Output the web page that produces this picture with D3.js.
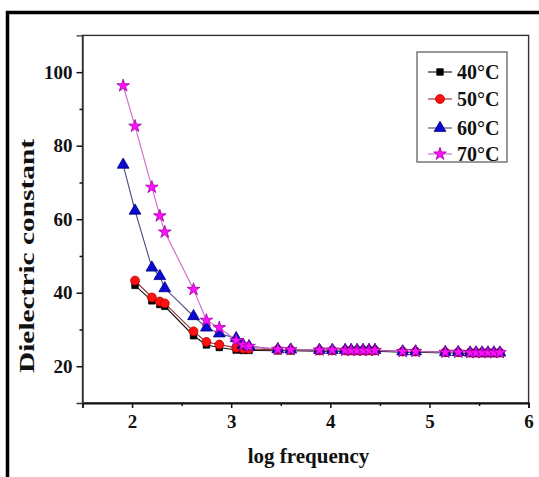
<!DOCTYPE html>
<html><head><meta charset="utf-8">
<script src="https://cdn.jsdelivr.net/npm/d3@7"></script>
<style>body{margin:0;background:#fff}svg{display:block}</style>
</head><body>
<script>
const logf = [1.91, 2.03, 2.20, 2.28, 2.33, 2.62, 2.75, 2.88, 3.05, 3.12, 3.18, 3.47, 3.60, 3.89, 4.02, 4.15, 4.21, 4.27, 4.33, 4.39, 4.45, 4.73, 4.86, 5.16, 5.29, 5.41, 5.47, 5.53, 5.59, 5.65, 5.71];
const t40 = [null, 42.0, 37.8, 36.8, 36.3, 28.3, 25.8, 25.1, 24.4, 24.3, 24.3, 24.2, 24.2, 24.1, 24.1, 24.1, 24.1, 24.1, 24.1, 24.1, 24.1, 23.8, 23.8, 23.6, 23.6, 23.5, 23.5, 23.5, 23.5, 23.5, 23.5];
const t50 = [null, 43.3, 38.7, 37.6, 37.1, 29.5, 26.6, 25.9, 25.0, 24.8, 24.7, 24.5, 24.4, 24.3, 24.3, 24.3, 24.3, 24.3, 24.3, 24.3, 24.3, 24.0, 24.0, 23.8, 23.8, 23.7, 23.7, 23.7, 23.7, 23.7, 23.7];
const t60 = [74.8, 62.3, 46.8, 44.5, 41.2, 33.6, 30.5, 28.9, 27.6, 25.8, 25.4, 24.6, 24.5, 24.4, 24.4, 24.4, 24.4, 24.4, 24.4, 24.4, 24.4, 24.0, 24.0, 23.8, 23.8, 23.7, 23.7, 23.7, 23.7, 23.7, 23.7];
const t70 = [96.3, 85.3, 68.7, 60.9, 56.5, 40.9, 32.5, 30.5, 27.0, 25.8, 25.4, 24.6, 24.5, 24.4, 24.4, 24.3, 24.3, 24.3, 24.3, 24.3, 24.3, 24.0, 24.0, 23.8, 23.8, 23.7, 23.7, 23.7, 23.7, 23.7, 23.7];
const seriesNames = ["40°C", "50°C", "60°C", "70°C"];
const xTicks = [2, 3, 4, 5, 6];
const yTicks = [20, 40, 60, 80, 100];

const W = 539, H = 477;
const svg = d3.select("body").append("svg").attr("width", W).attr("height", H);
const FONT = "'Liberation Serif','Times New Roman',serif";

const x = d3.scaleLinear().domain([1.5, 6]).range([82.5, 528.6]);
const y = d3.scaleLinear().domain([10, 110]).range([403, 35.4]);

// outer frame
svg.append("path").attr("d", `M7.5,${H} L7.5,12.5 L${W},12.5`)
  .attr("fill", "none").attr("stroke", "#000").attr("stroke-width", 3.5);

// plot frame
svg.append("rect").attr("x", x(1.5)).attr("y", y(110)).attr("width", x(6) - x(1.5)).attr("height", y(10) - y(110))
  .attr("fill", "none").attr("stroke", "#333").attr("stroke-width", 1.4);

// x axis
const xAxis = d3.axisBottom(x).tickValues(xTicks).tickFormat(d3.format("d")).tickSize(5).tickPadding(7);
const gx = svg.append("g").attr("transform", `translate(0,${y(10)})`).call(xAxis);
gx.select(".domain").attr("stroke", "#111").attr("stroke-width", 1.8);
gx.selectAll(".tick line").attr("stroke", "#111").attr("stroke-width", 1.5);
gx.selectAll("text").attr("font-family", FONT).attr("font-weight", "bold").attr("font-size", 19).attr("fill", "#111");
const gxm = svg.append("g").attr("transform", `translate(0,${y(10)})`)
  .call(d3.axisBottom(x).tickValues([1.5, 2.5, 3.5, 4.5, 5.5]).tickFormat("").tickSize(3));
gxm.select(".domain").remove();
gxm.selectAll(".tick line").attr("stroke", "#111").attr("stroke-width", 1.5);

// y axis
const yAxis = d3.axisLeft(y).tickValues(yTicks).tickFormat(d3.format("d")).tickSize(6).tickPadding(4);
const gy = svg.append("g").attr("transform", `translate(${x(1.5)},0)`).call(yAxis);
gy.select(".domain").attr("stroke", "#333").attr("stroke-width", 1.4);
gy.selectAll(".tick line").attr("stroke", "#111").attr("stroke-width", 1.5);
gy.selectAll("text").attr("font-family", FONT).attr("font-weight", "bold").attr("font-size", 19).attr("fill", "#111");
const gym = svg.append("g").attr("transform", `translate(${x(1.5)},0)`)
  .call(d3.axisLeft(y).tickValues([30, 50, 70, 90]).tickFormat("").tickSize(3));
gym.select(".domain").remove();
gym.selectAll(".tick line").attr("stroke", "#111").attr("stroke-width", 1.5);

// titles
svg.append("text").attr("x", (x(1.5) + x(6)) / 2 + 3).attr("y", 463).attr("text-anchor", "middle")
  .attr("font-family", FONT).attr("font-weight", "bold").attr("font-size", 21).attr("fill", "#111").text("log frequency");
svg.append("text").attr("transform", "translate(34,256) rotate(-90)").attr("text-anchor", "middle")
  .attr("font-family", FONT).attr("font-weight", "bold").attr("font-size", 20).attr("fill", "#111")
  .attr("textLength", 234).attr("lengthAdjust", "spacingAndGlyphs").text("Dielectric constant");

// series
const series = [
  {name: seriesNames[0], vals: t40, line: "#111", fill: "#000", stroke: "#000", sym: d3.symbolSquare, size: 42},
  {name: seriesNames[1], vals: t50, line: "#8a2a2a", fill: "#ff1010", stroke: "#b00000", sym: d3.symbolCircle, size: 62},
  {name: seriesNames[2], vals: t60, line: "#4c4c80", fill: "#0a0ad0", stroke: "#000080", sym: d3.symbolTriangle, size: 60},
  {name: seriesNames[3], vals: t70, line: "#cc66cc", fill: "#ff10ff", stroke: "#a000a0", sym: d3.symbolStar, size: 50}
];

const line = d3.line().defined(d => d[1] != null).x(d => x(d[0])).y(d => y(d[1]));
series.forEach(s => {
  const pts = logf.map((f, i) => [f, s.vals[i]]).filter(d => d[1] != null);
  svg.append("path").datum(pts).attr("d", line).attr("fill", "none").attr("stroke", s.line).attr("stroke-width", 1.1);
});
series.forEach(s => {
  const pts = logf.map((f, i) => [f, s.vals[i]]).filter(d => d[1] != null);
  svg.append("g").selectAll("path").data(pts).enter().append("path")
    .attr("d", d3.symbol().type(s.sym).size(s.size))
    .attr("transform", d => `translate(${x(d[0])},${y(d[1])})`)
    .attr("fill", s.fill).attr("stroke", s.stroke).attr("stroke-width", 0.8);
});

// legend
const lg = svg.append("g");
lg.append("rect").attr("x", 417).attr("y", 52).attr("width", 90).attr("height", 110)
  .attr("fill", "#fff").attr("stroke", "#555").attr("stroke-width", 1.2);
const ly = [72, 99, 128, 154];
series.forEach((s, i) => {
  lg.append("line").attr("x1", 428).attr("x2", 452).attr("y1", ly[i]).attr("y2", ly[i]).attr("stroke", s.line).attr("stroke-width", 1.1);
  lg.append("path").attr("d", d3.symbol().type(s.sym).size(s.size)).attr("transform", `translate(440,${ly[i]})`)
    .attr("fill", s.fill).attr("stroke", s.stroke).attr("stroke-width", 0.8);
  lg.append("text").attr("x", 457).attr("y", ly[i] + 7).attr("font-family", FONT).attr("font-weight", "bold")
    .attr("font-size", 20).attr("fill", "#111").text(s.name);
});
</script>
</body></html>
